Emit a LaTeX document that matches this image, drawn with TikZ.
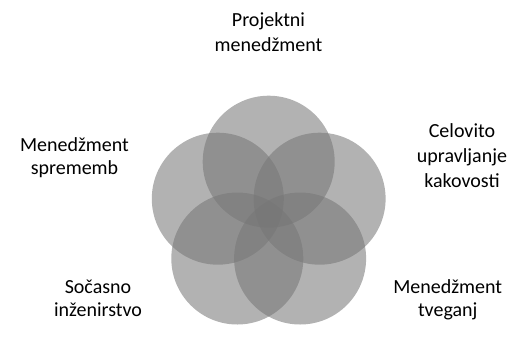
\documentclass[tikz,border=0pt]{standalone}
\usepackage{fontspec}
\setmainfont{Carlito}
\definecolor{petal}{RGB}{118,118,118}
\begin{document}
\begin{tikzpicture}[x=1pt,y=-1pt,
  petalc/.style={circle, inner sep=0pt, minimum size=132pt, fill=petal, fill opacity=0.56, draw=none},
  lbl/.style={anchor=base, inner sep=0pt, font=\fontsize{20}{24}\selectfont, text=black}]
\useasboundingbox (0,0) rectangle (517,341);
% five overlapping circles on a pentagon
\node[petalc] (c1) at (268.7,161.7) {};
\node[petalc] (c2) at (319.6,198.7) {};
\node[petalc] (c3) at (300.1,258.5) {};
\node[petalc] (c4) at (237.3,258.5) {};
\node[petalc] (c5) at (217.8,198.7) {};
% labels
\node[lbl] (t1a) at (268.5,26.7) {Projektni};
\node[lbl] (t1b) at (268.5,51) {menedžment};
\node[lbl] (t2a) at (462,137.7) {Celovito};
\node[lbl] (t2b) at (462,162.5) {upravljanje};
\node[lbl] (t2c) at (462,187) {kakovosti};
\node[lbl] (t3a) at (447.7,293.3) {Menedžment};
\node[lbl] (t3b) at (447.7,316.7) {tveganj};
\node[lbl] (t4a) at (98,293.3) {Sočasno};
\node[lbl] (t4b) at (98,316.7) {inženirstvo};
\node[lbl] (t5a) at (74.5,151) {Menedžment};
\node[lbl] (t5b) at (74.5,174.5) {sprememb};
\end{tikzpicture}
\end{document}
